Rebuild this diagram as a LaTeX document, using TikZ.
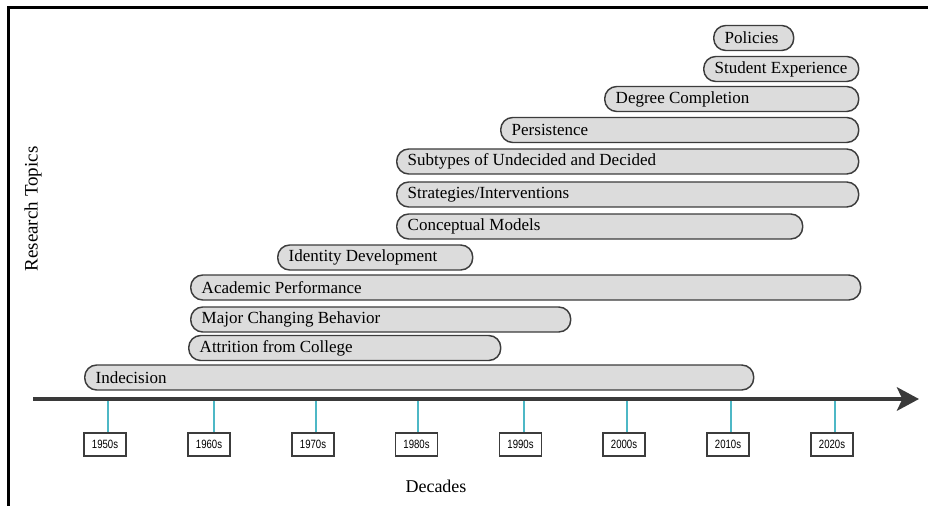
\documentclass[tikz,border=0pt]{standalone}
\usepackage{fontspec}
\setmainfont{Liberation Serif}
\newfontfamily\decfont{Liberation Sans}
\usetikzlibrary{arrows.meta}
\definecolor{barfill}{HTML}{DCDCDC}
\definecolor{barline}{HTML}{3C3C3C}
\definecolor{axiscol}{HTML}{3A3A3A}
\definecolor{tickcol}{HTML}{4DB8C6}
\tikzset{
  topic/.style={draw=barline, fill=barfill, line width=1.1pt, rounded corners=9pt,
    minimum height=18.75pt, inner ysep=0pt, inner xsep=8.25pt,
    font=\fontsize{12.75}{14}\selectfont},
  decbox/.style={draw=barline, fill=white, line width=1pt, minimum width=31.5pt,
    minimum height=17.25pt, inner sep=0pt,
    font=\decfont\fontsize{9}{10}\selectfont},
  tickline/.style={draw=tickcol, line width=1.1pt},
  axisline/.style={draw=axiscol, line width=3.4pt, -{Stealth[length=16.5pt, width=17.5pt, inset=4pt]}},
  framelines/.style={draw=black, line width=2.3pt},
  axislabel/.style={font=\fontsize{13.5}{15}\selectfont}
}
\newcommand\topicbar[5]{%
  \pgfmathsetmacro\tw{(#3-#2)*0.75-16.5}%
  \node[topic, anchor=west] (#1) at (#2,#4) {\makebox[\tw pt][l]{#5}};}
\newcommand\decade[3]{%
  \coordinate (t#1) at (#3,401);
  \node[decbox] (d#1) at (#2,444.5) {\scalebox{0.8}[1]{#1s}};
  \draw[tickline] (t#1) -- (t#1 |- d#1.north);}
\begin{document}
\begin{tikzpicture}[x=0.75pt, y=-0.75pt]
\useasboundingbox (0,0) rectangle (928,506);
% frame
\coordinate (fa) at (928,7.5);
\coordinate (fb) at (8.5,7.5);
\coordinate (fc) at (8.5,506);
\draw[framelines] (fa) -- (fb) -- (fc);
% topic bars
\topicbar{pol}{713}{793}{38}{Policies}
\topicbar{stu}{703}{858}{69}{Student Experience}
\topicbar{deg}{604}{858}{99}{Degree Completion}
\topicbar{per}{500}{858}{130}{Persistence}
\topicbar{sub}{396}{858}{161.5}{Subtypes of Undecided and Decided}
\topicbar{str}{396}{858}{194.5}{Strategies/Interventions}
\topicbar{con}{396}{802}{226.5}{Conceptual Models}
\topicbar{ide}{277}{472}{257.5}{Identity Development}
\topicbar{aca}{190}{860}{287.5}{Academic Performance}
\topicbar{maj}{190}{570}{319.5}{Major Changing Behavior}
\topicbar{att}{188}{500}{348}{Attrition from College}
\topicbar{ind}{84}{753}{377.5}{Indecision}
% axis
\coordinate (axS) at (33,399);
\coordinate (axE) at (919,399);
\draw[axisline] (axS) -- (axE);
% decades
\decade{1950}{105}{108}
\decade{1960}{209}{214}
\decade{1970}{313}{316}
\decade{1980}{416.5}{418}
\decade{1990}{520.5}{524}
\decade{2000}{624}{627}
\decade{2010}{728}{731}
\decade{2020}{832}{835}
% labels
\node[axislabel] (xl) at (436,486) {Decades};
\node[axislabel, rotate=90, font=\fontsize{14.25}{16}\selectfont] (yl) at (33,209) {Research Topics};
\end{tikzpicture}
\end{document}
